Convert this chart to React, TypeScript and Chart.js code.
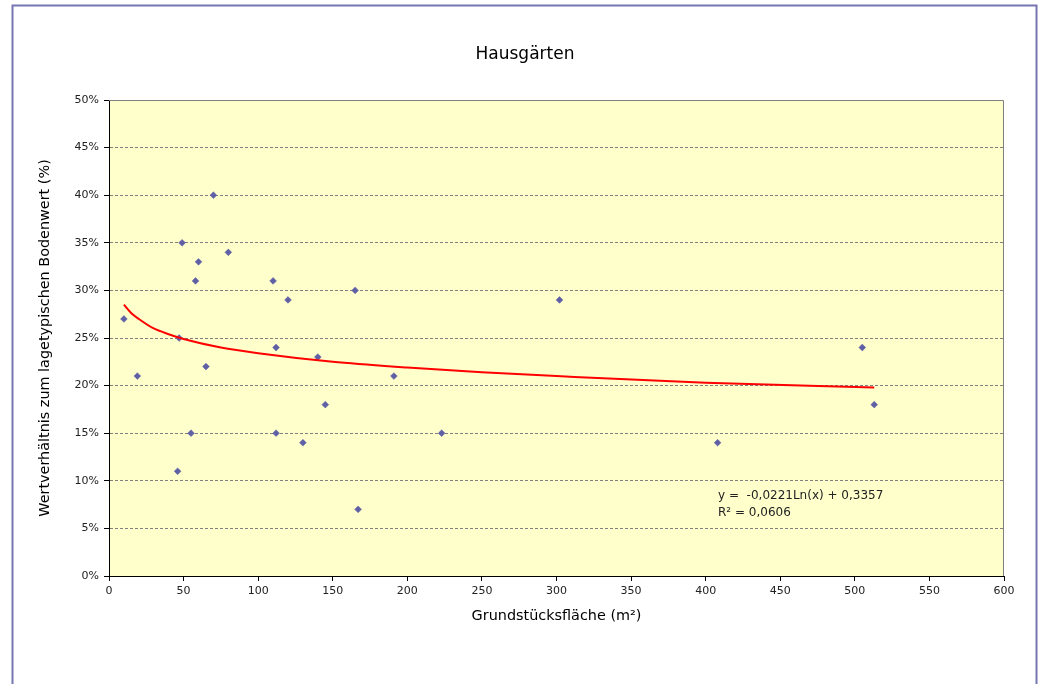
import React, { useEffect, useRef } from "react";
import { Chart, registerables } from "chart.js";

Chart.register(...registerables);

const titleText = "Hausgärten";
const xTitle = "Grundstücksfläche (m²)";
const yTitle = "Wertverhältnis zum lagetypischen Bodenwert (%)";
const equationLines = ["y =  -0,0221Ln(x) + 0,3357", "R² = 0,0606"];

// Grundstücksfläche (m²)
const areaM2 = [10, 19, 46, 47, 49, 55, 58, 60, 65, 70, 80, 110, 112, 112, 120, 130, 140, 145, 165, 167, 191, 223, 302, 408, 505, 513];
// Wertverhältnis (%)
const ratioPct = [27, 21, 11, 25, 35, 15, 31, 33, 22, 40, 34, 31, 24, 15, 29, 14, 23, 18, 30, 7, 21, 15, 29, 14, 24, 18];

// logarithmic trend line
const trendX = [10, 15, 20, 30, 40, 50, 75, 100, 150, 200, 250, 300, 400, 513];
const trendY = [28.5, 27.6, 27.0, 26.0, 25.4, 24.9, 24.0, 23.4, 22.5, 21.9, 21.4, 21.0, 20.3, 19.8];

const xMin = 0, xMax = 600, xStep = 50;
const yMin = 0, yMax = 50, yStep = 5;

const FONT = "'DejaVu Sans', Verdana, sans-serif";

export default function App() {
  const ref = useRef<HTMLCanvasElement | null>(null);

  useEffect(() => {
    document.body.style.margin = "0";
    const canvas = ref.current;
    if (!canvas) return;

    const decor = {
      id: "decor",
      beforeDraw(chart: any) {
        const { ctx, chartArea: a, width, height } = chart;
        ctx.save();
        ctx.fillStyle = "#ffffff";
        ctx.fillRect(0, 0, width, height);
        ctx.fillStyle = "#FFFFCC";
        ctx.fillRect(a.left, a.top, a.right - a.left, a.bottom - a.top);
        ctx.strokeStyle = "#7676B2";
        ctx.lineWidth = 2;
        ctx.strokeRect(12.5, 5.5, 1024, height + 20);
        ctx.restore();
      },
      beforeDatasetsDraw(chart: any) {
        const { ctx, chartArea: a } = chart;
        ctx.save();
        ctx.strokeStyle = "#808080";
        ctx.lineWidth = 1;
        ctx.beginPath();
        ctx.moveTo(a.left, a.top + 0.5);
        ctx.lineTo(a.right - 0.5, a.top + 0.5);
        ctx.lineTo(a.right - 0.5, a.bottom);
        ctx.stroke();
        ctx.restore();
      },
      afterDraw(chart: any) {
        const { ctx, chartArea: a } = chart;
        ctx.save();
        ctx.fillStyle = "#222";
        ctx.font = `12px ${FONT}`;
        ctx.textAlign = "left";
        ctx.textBaseline = "middle";
        ctx.fillText(equationLines[0], a.left + 609, a.top + 396);
        ctx.fillText(equationLines[1], a.left + 609, a.top + 413);
        ctx.restore();
      },
    };

    const chart = new Chart(canvas, {
      type: "scatter",
      data: {
        datasets: [
          {
            label: "Hausgärten",
            data: areaM2.map((x, i) => ({ x, y: ratioPct[i] })),
            pointStyle: "rectRot",
            pointRadius: 3.4,
            pointBackgroundColor: "#5F5FA6",
            pointBorderColor: "#5F5FA6",
            pointBorderWidth: 0.5,
            showLine: false,
            order: 2,
          },
          {
            type: "line",
            label: "Trend",
            data: trendX.map((x, i) => ({ x, y: trendY[i] })),
            borderColor: "#FF0000",
            borderWidth: 2,
            pointRadius: 0,
            cubicInterpolationMode: "monotone",
            fill: false,
            order: 1,
          },
        ],
      } as any,
      options: {
        responsive: false,
        animation: false,
        devicePixelRatio: 1,
        layout: { padding: { left: 12, right: 0, top: 0, bottom: 0 } },
        plugins: {
          legend: { display: false },
          tooltip: { enabled: false },
          title: {
            display: true,
            text: titleText,
            color: "#000",
            font: { family: FONT, size: 17, weight: "normal" },
            padding: { top: 44, bottom: 35.6 },
          },
        },
        scales: {
          x: {
            type: "linear",
            min: xMin,
            max: xMax,
            afterFit(scale: any) {
              scale.height = 108;
            },
            ticks: {
              stepSize: xStep,
              color: "#222",
              font: { family: FONT, size: 11 },
              padding: 4,
              maxRotation: 0,
            },
            grid: {
              drawOnChartArea: false,
              drawTicks: true,
              tickLength: 5,
              tickColor: "#000",
            },
            border: { display: true, color: "#000", width: 1 },
            title: {
              display: true,
              text: xTitle,
              color: "#000",
              font: { family: FONT, size: 14.4 },
              padding: { top: 0, bottom: 59 },
            },
          },
          y: {
            type: "linear",
            min: yMin,
            max: yMax,
            afterFit(scale: any) {
              scale.width = 97;
            },
            ticks: {
              stepSize: yStep,
              color: "#222",
              font: { family: FONT, size: 11 },
              padding: 5,
              callback: (v: any) => `${v}%`,
            },
            grid: {
              color: (c: any) => (c.tick && c.tick.value === 0 ? "rgba(0,0,0,0)" : "#808080"),
              lineWidth: 1,
              tickLength: 5,
              tickColor: "#000",
            },
            border: { display: true, color: "#000", width: 1, dash: [3, 2] },
            title: {
              display: true,
              text: yTitle,
              color: "#000",
              font: { family: FONT, size: 14.4 },
              padding: { top: 24.5, bottom: 0 },
            },
          },
          yRight: {
            type: "linear",
            position: "right",
            display: true,
            min: yMin,
            max: yMax,
            afterFit(scale: any) {
              scale.width = 34;
            },
            ticks: { display: false },
            grid: { display: false, drawTicks: false },
            border: { display: false },
          },
        },
      } as any,
      plugins: [decor],
    });

    return () => chart.destroy();
  }, []);

  return (
    <div style={{ width: 1038, height: 684 }}>
      <canvas ref={ref} width={1038} height={684} style={{ display: "block" }} />
    </div>
  );
}
